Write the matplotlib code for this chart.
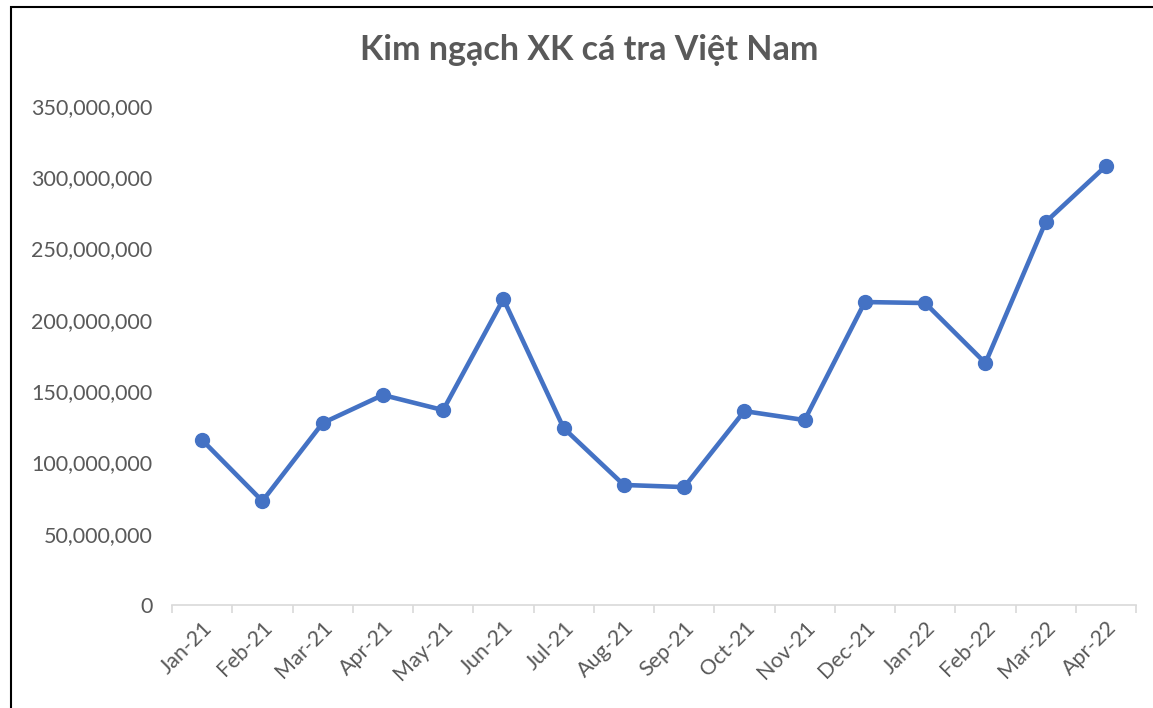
import matplotlib
matplotlib.use('Agg')
import matplotlib.pyplot as plt
from matplotlib.ticker import FuncFormatter
from matplotlib.patches import Rectangle

months = ['Jan-21', 'Feb-21', 'Mar-21', 'Apr-21', 'May-21', 'Jun-21', 'Jul-21', 'Aug-21',
          'Sep-21', 'Oct-21', 'Nov-21', 'Dec-21', 'Jan-22', 'Feb-22', 'Mar-22', 'Apr-22']
values = [115.7, 72.9, 127.6, 147.3, 136.7, 214.6, 124.1, 84.2,
          82.7, 136.0, 129.7, 212.5, 211.8, 169.7, 268.6, 307.9]
values = [v * 1e6 for v in values]

plt.rcParams['font.family'] = ['Lato', 'DejaVu Sans']

fig = plt.figure(figsize=(11.53, 7.08), dpi=100)
ax = fig.add_axes([172 / 1153, 1 - 605 / 708, (1136 - 172) / 1153, (605 - 106) / 708])

x = list(range(len(months)))
ax.plot(x, values, color='#4472C4', linewidth=3.3, marker='o', markersize=10,
        solid_capstyle='round', solid_joinstyle='round')

ax.set_xlim(-0.5, len(months) - 0.5)
ax.set_ylim(0, 350e6)
ax.set_yticks(range(0, 350000001, 50000000))
ax.yaxis.set_major_formatter(FuncFormatter(lambda v, p: f'{int(v):,}'))

ax.set_xticks([i - 0.5 for i in range(len(months) + 1)], minor=False)
ax.set_xticklabels([])
ax.set_xticks(x, minor=True)
ax.set_xticklabels(months, minor=True, rotation=45, ha='right', rotation_mode='anchor')
ax.tick_params(axis='x', which='major', length=6, color='#d9d9d9', width=1.2)
ax.tick_params(axis='x', which='minor', length=0, pad=9, labelsize=15.5, labelcolor='#595959')
ax.tick_params(axis='y', length=0, pad=14, labelsize=15.5, labelcolor='#595959')

for s in ['left', 'right', 'top']:
    ax.spines[s].set_visible(False)
ax.spines['bottom'].set_color('#d9d9d9')
ax.spines['bottom'].set_linewidth(1.2)

fig.text(589 / 1153, 1 - 50 / 708, 'Kim ngạch XK cá tra Việt Nam', ha='center', va='center',
         fontsize=24.5, fontweight='bold', color='#595959')

fig.patches.append(Rectangle((11 / 1153, -0.1), 1.2, 1 - 7 / 708 + 0.1, transform=fig.transFigure,
                             fill=False, edgecolor='black', linewidth=1.5))

fig.savefig('out.png', dpi=100)
